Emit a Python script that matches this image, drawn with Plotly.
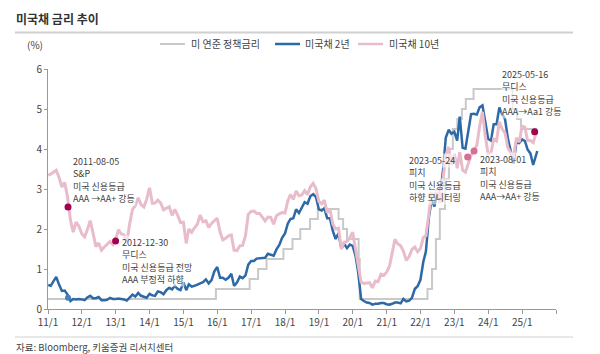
import pandas as pd
import plotly.graph_objects as go

# ---------------- data ----------------
# month-end yields (%), Jan 2011 .. May 2025, plus a final June 2025 reading
y10_2011 = [3.37, 3.42, 3.47, 3.29, 3.05, 3.16, 2.80, 2.22, 1.92, 2.17, 2.07, 1.88]
y10_2012 = [1.80, 1.98, 2.21, 1.91, 1.56, 1.65, 1.47, 1.55, 1.63, 1.69, 1.61, 1.76]
y10_2013 = [1.98, 1.88, 1.85, 1.67, 2.13, 2.49, 2.58, 2.78, 2.61, 2.55, 2.74, 3.03]
y10_2014 = [2.64, 2.65, 2.72, 2.65, 2.48, 2.53, 2.56, 2.34, 2.49, 2.34, 2.16, 2.17]
y10_2015 = [1.64, 2.00, 1.92, 2.03, 2.12, 2.35, 2.18, 2.21, 2.04, 2.14, 2.21, 2.27]
y10_2016 = [1.92, 1.73, 1.77, 1.83, 1.85, 1.47, 1.46, 1.58, 1.59, 1.83, 2.37, 2.44]
y10_2017 = [2.45, 2.39, 2.39, 2.28, 2.20, 2.30, 2.29, 2.12, 2.33, 2.38, 2.41, 2.40]
y10_2018 = [2.71, 2.86, 2.74, 2.95, 2.83, 2.85, 2.96, 2.86, 3.05, 3.14, 3.01, 2.69]
y10_2019 = [2.63, 2.72, 2.41, 2.50, 2.12, 2.00, 2.02, 1.50, 1.67, 1.69, 1.78, 1.92]
y10_2020 = [1.51, 1.15, 0.67, 0.64, 0.65, 0.66, 0.53, 0.70, 0.68, 0.87, 0.84, 0.92]
y10_2021 = [1.07, 1.40, 1.74, 1.63, 1.58, 1.45, 1.22, 1.31, 1.49, 1.55, 1.43, 1.51]
y10_2022 = [1.79, 1.83, 2.32, 2.89, 2.84, 3.01, 2.65, 3.19, 3.83, 4.05, 3.61, 3.88]
y10_2023 = [3.52, 3.92, 3.47, 3.42, 3.64, 3.84, 3.97, 4.09, 4.57, 4.93, 4.33, 3.88]
y10_2024 = [3.91, 4.25, 4.20, 4.68, 4.50, 4.40, 4.03, 3.90, 3.78, 4.28, 4.17, 4.57]
y10_2025 = [4.54, 4.21, 4.21, 4.16, 4.40, 4.36]

y2_2011 = [0.58, 0.69, 0.80, 0.61, 0.45, 0.46, 0.36, 0.20, 0.25, 0.24, 0.25, 0.24]
y2_2012 = [0.22, 0.29, 0.33, 0.27, 0.27, 0.30, 0.22, 0.22, 0.23, 0.28, 0.25, 0.25]
y2_2013 = [0.26, 0.25, 0.24, 0.21, 0.30, 0.36, 0.31, 0.40, 0.33, 0.31, 0.28, 0.38]
y2_2014 = [0.34, 0.33, 0.44, 0.42, 0.37, 0.47, 0.53, 0.49, 0.58, 0.50, 0.47, 0.67]
y2_2015 = [0.47, 0.62, 0.56, 0.58, 0.61, 0.64, 0.67, 0.74, 0.64, 0.72, 0.94, 1.05]
y2_2016 = [0.78, 0.78, 0.73, 0.78, 0.88, 0.58, 0.66, 0.81, 0.77, 0.84, 1.11, 1.20]
y2_2017 = [1.20, 1.26, 1.27, 1.28, 1.28, 1.38, 1.36, 1.33, 1.49, 1.60, 1.78, 1.89]
y2_2018 = [2.14, 2.25, 2.27, 2.49, 2.40, 2.53, 2.67, 2.63, 2.82, 2.87, 2.80, 2.49]
y2_2019 = [2.46, 2.52, 2.27, 2.27, 1.95, 1.75, 1.89, 1.51, 1.63, 1.52, 1.61, 1.58]
y2_2020 = [1.33, 0.91, 0.25, 0.20, 0.16, 0.15, 0.11, 0.13, 0.13, 0.15, 0.15, 0.12]
y2_2021 = [0.11, 0.13, 0.16, 0.16, 0.14, 0.25, 0.19, 0.21, 0.28, 0.50, 0.57, 0.73]
y2_2022 = [1.18, 1.44, 2.28, 2.72, 2.56, 2.95, 2.89, 3.45, 4.28, 4.48, 4.38, 4.43]
y2_2023 = [4.21, 4.81, 4.03, 4.01, 4.40, 4.87, 4.88, 4.86, 5.04, 5.09, 4.68, 4.25]
y2_2024 = [4.21, 4.62, 4.62, 5.04, 4.87, 4.75, 4.26, 3.91, 3.64, 4.17, 4.15, 4.24]
y2_2025 = [4.20, 3.99, 3.89, 3.60, 3.90, 3.95]

start_10y = 3.35
start_2y = 0.60

# Fed funds target (upper bound), step changes
fed_dates = ['2011-01-01', '2015-12-17', '2016-12-15', '2017-03-16', '2017-06-15',
             '2017-12-14', '2018-03-22', '2018-06-14', '2018-09-27', '2018-12-20',
             '2019-08-01', '2019-09-19', '2019-10-31', '2020-03-04', '2020-03-16',
             '2022-03-17', '2022-05-05', '2022-06-16', '2022-07-28', '2022-09-22',
             '2022-11-03', '2022-12-15', '2023-02-02', '2023-03-23', '2023-05-04',
             '2023-07-27', '2024-09-19', '2024-11-08', '2024-12-19', '2025-06-13']
fed_vals = [0.25, 0.50, 0.75, 1.00, 1.25, 1.50, 1.75, 2.00, 2.25, 2.50,
            2.25, 2.00, 1.75, 1.25, 0.25, 0.50, 1.00, 1.75, 2.50, 3.25,
            4.00, 4.50, 4.75, 5.00, 5.25, 5.50, 5.00, 4.75, 4.50, 4.50]

# rating events
evt_dates = ['2011-08-05', '2012-12-30', '2023-05-24', '2023-08-01', '2025-05-16']
evt_10y = [2.55, 1.70, 3.80, 3.95, 4.43]
evt_lines = [
    ['2011-08-05', 'S&P', '미국 신용등급', 'AAA →AA+ 강등'],
    ['2012-12-30', '무디스', '미국 신용등급 전망', 'AAA 부정적 하향'],
    ['2023-05-24', '피치', '미국 신용등급', '하향 모니터링'],
    ['2023-08-01', '피치', '미국 신용등급', 'AAA→AA+ 강등'],
    ['2025-05-16', '무디스', '미국 신용등급', 'AAA→Aa1 강등'],
]
evt_2y_date = ['2011-08-05']
evt_2y_val = [0.28]

series_names = ['미 연준 정책금리', '미국채 2년', '미국채 10년']
series_colors = ['#c9c9c9', '#2d69a6', '#e8bccb']

tick_years = list(range(2011, 2027))
tick_text = [f'{y % 100:02d}/1' for y in tick_years[:-1]] + ['']

# ---------------- build ----------------
y10 = [start_10y] + y10_2011 + y10_2012 + y10_2013 + y10_2014 + y10_2015 + y10_2016 + \
    y10_2017 + y10_2018 + y10_2019 + y10_2020 + y10_2021 + y10_2022 + y10_2023 + y10_2024 + y10_2025
y2 = [start_2y] + y2_2011 + y2_2012 + y2_2013 + y2_2014 + y2_2015 + y2_2016 + \
    y2_2017 + y2_2018 + y2_2019 + y2_2020 + y2_2021 + y2_2022 + y2_2023 + y2_2024 + y2_2025
n_month = len(y10) - 2
dates = [pd.Timestamp('2011-01-03')] + list(pd.date_range('2011-01-31', periods=n_month, freq='ME')) + \
    [pd.Timestamp('2025-06-13')]

FONT = 'Noto Sans CJK KR'
W, H = 600, 354
L, R, T, B = 48, 44, 69, 45
pw, ph = W - L - R, H - T - B


def px(x):
    return (x - L) / pw


def py(y):
    return 1 - (y - T) / ph


fig = go.Figure()
fig.add_trace(go.Scatter(x=pd.to_datetime(fed_dates), y=fed_vals, mode='lines', line_shape='hv',
                         name=series_names[0], line=dict(color=series_colors[0], width=2)))
fig.add_trace(go.Scatter(x=dates, y=y2, mode='lines', name=series_names[1],
                         line=dict(color=series_colors[1], width=2.5)))
fig.add_trace(go.Scatter(x=dates, y=y10, mode='lines', name=series_names[2],
                         line=dict(color=series_colors[2], width=3)))

evt_colors = ['#a3004f', '#a3004f', '#d46f97', '#d46f97', '#a3004f']
fig.add_trace(go.Scatter(x=pd.to_datetime(evt_dates), y=evt_10y, mode='markers', showlegend=False,
                         marker=dict(color=evt_colors, size=7)))
fig.add_trace(go.Scatter(x=pd.to_datetime(evt_2y_date), y=evt_2y_val, mode='markers', showlegend=False,
                         marker=dict(color='#4a7fb5', size=6)))

# annotation text blocks: left pixel x, centre y of first line, line step
box_pos = [(72, 161), (121, 242), (408, 160), (479, 159), (501, 74)]
LINE_STEP = 12.6
for (bx, by), lines in zip(box_pos, evt_lines):
    for i, t in enumerate(lines):
        fig.add_annotation(xref='paper', yref='paper', x=px(bx), y=py(by + i * LINE_STEP),
                           xanchor='left', yanchor='middle', text=t, showarrow=False, align='left',
                           font=dict(family=FONT, size=9, color='#404040'),
                           bgcolor='rgba(255,255,255,0.55)', borderpad=0)

# manual legend
leg_x = [(160, 189), (275, 303), (358, 387)]
leg_w = [2, 2.5, 2.5]
for (lx, tx), nm, c, w in zip(leg_x, series_names, series_colors, leg_w):
    fig.add_shape(type='line', xref='paper', yref='paper', x0=px(lx), x1=px(lx + 25), y0=py(44), y1=py(44),
                  line=dict(color=c, width=w))
    fig.add_annotation(xref='paper', yref='paper', x=px(tx), y=py(44), xanchor='left', yanchor='middle',
                       text=nm, showarrow=False, font=dict(family=FONT, size=10, color='#444444'))

# title, unit, source
fig.add_annotation(xref='paper', yref='paper', x=px(14), y=py(18), xanchor='left', yanchor='middle',
                   text='<b>미국채 금리 추이</b>', showarrow=False,
                   font=dict(family=FONT, size=12, color='#333333'))
fig.add_annotation(xref='paper', yref='paper', x=px(35), y=py(45), xanchor='center', yanchor='middle',
                   text='(%)', showarrow=False, font=dict(family=FONT, size=10, color='#444444'))
fig.add_annotation(xref='paper', yref='paper', x=px(14), y=py(347), xanchor='left', yanchor='middle',
                   text='자료: Bloomberg, 키움증권 리서치센터', showarrow=False,
                   font=dict(family=FONT, size=9.5, color='#444444'))
fig.add_shape(type='line', xref='paper', yref='paper', x0=px(15), x1=px(573), y0=py(32.5), y1=py(32.5),
              line=dict(color='#d0d0d0', width=2))
fig.add_shape(type='line', xref='paper', yref='paper', x0=px(15), x1=px(573), y0=py(337), y1=py(337),
              line=dict(color='#d0d0d0', width=1))

fig.update_layout(
    width=W, height=H, margin=dict(l=L, r=R, t=T, b=B),
    paper_bgcolor='white', plot_bgcolor='white',
    font=dict(family=FONT, size=10, color='#444444'),
    showlegend=False,
    xaxis=dict(type='date', range=['2011-01-01', '2026-01-01'],
               tickvals=[pd.Timestamp(f'{y}-01-01') for y in tick_years], ticktext=tick_text,
               showgrid=False, zeroline=False, showline=True, linecolor='#999999', linewidth=1,
               ticks='outside', ticklen=4, tickcolor='#999999',
               tickfont=dict(family=FONT, size=10, color='#444444')),
    yaxis=dict(range=[0, 6], dtick=1, showgrid=False, zeroline=False, showline=True,
               linecolor='#999999', linewidth=1, ticks='outside', ticklen=3, tickcolor='#999999',
               tickfont=dict(family=FONT, size=10, color='#444444')),
)

fig.write_html('out.html')
